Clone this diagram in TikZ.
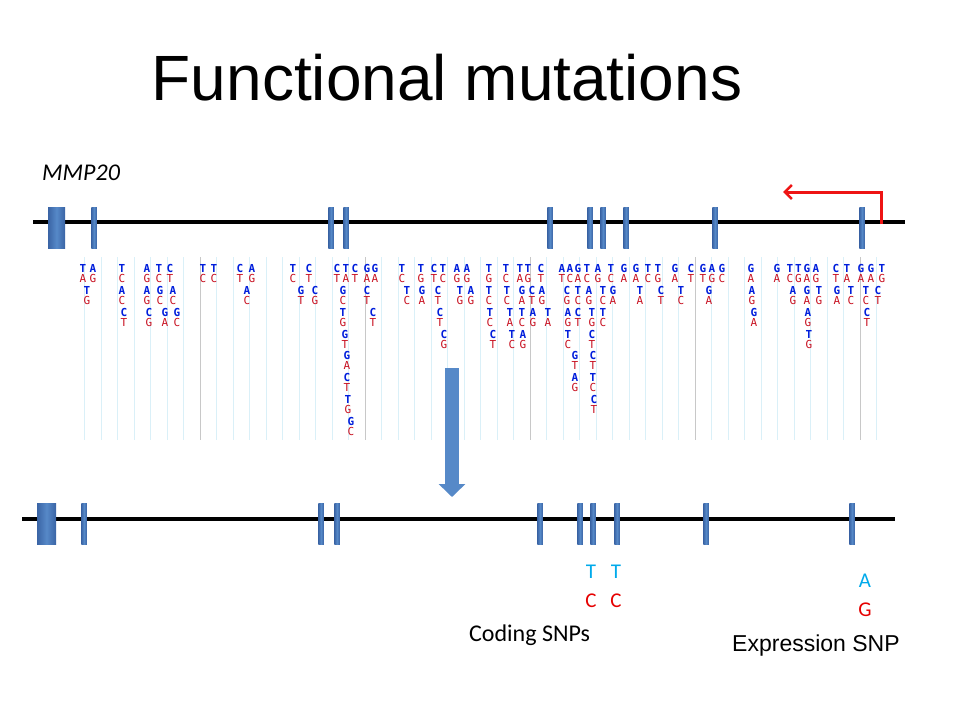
\documentclass[tikz,border=0pt]{standalone}
\usepackage{fontspec}
\setmainfont{Liberation Sans}
\newfontfamily\calibri{Carlito}
\newfontfamily\basefont{DejaVu Sans Mono}
\definecolor{exonblue}{RGB}{86, 137, 200}
\definecolor{exondark}{RGB}{58, 100, 165}
\definecolor{baseblue}{RGB}{0, 30, 220}
\definecolor{basered}{RGB}{200, 16, 32}
\definecolor{gridcyan}{RGB}{218, 240, 248}
\definecolor{gridgray}{RGB}{200, 200, 200}
\definecolor{snpcyan}{RGB}{0, 170, 235}
\definecolor{snpred}{RGB}{230, 0, 0}
\definecolor{tssred}{RGB}{238, 20, 20}
\usetikzlibrary{arrows.meta, positioning}

\begin{document}
\begin{tikzpicture}[x=1pt, y=-1pt,
  exon/.style={left color=exondark, right color=exondark, middle color=exonblue, minimum width=5.5pt, minimum height=41pt, inner sep=0pt},
  bigexon/.style={exon, minimum width=17pt},
  geneline/.style={line width=3.8pt, black},
  gridthin/.style={gridcyan, line width=0.6pt},
  gridthick/.style={gridgray, line width=0.8pt},
  topbase/.style={inner sep=0pt, text=baseblue, font=\basefont\bfseries\fontsize{11}{11}\selectfont},
  botbase/.style={inner sep=0pt, text=basered, font=\basefont\fontsize{11}{11}\selectfont},
  allele/.style={inner sep=0pt, font=\calibri\fontsize{21}{21}\selectfont},
  label/.style={inner sep=0pt, anchor=base west}
]
  \fill[white] (0,0) rectangle (960,720);
  \useasboundingbox (0,0) rectangle (960,720);

  \node[font=\fontsize{64}{64}\selectfont, anchor=base, inner sep=0pt] (title) at (447,100) {Functional mutations};
  \node[label, font=\calibri\itshape\fontsize{24}{24}\selectfont] (gene) at (42,180) {MMP20};

  % genomic line with exons
  \coordinate (top5) at (33,222);
  \coordinate (top3) at (905,222);
  \draw[geneline] (top5) -- (top3);
  \node[bigexon] (tex0) at (56.5,227.5) {};
  \foreach \x [count=\i] in {94,331,346,550,590,603,626,715,862}
    \node[exon] (tex\i) at (\x,227.5) {};

  \coordinate (tss) at (881,224);
  \coordinate (tssend) at (783,192);
  \draw[tssred, line width=3pt, -{Straight Barb[length=7pt, width=14pt, line width=2.5pt]}] (tss) |- (tssend);

  % alignment grid
  \foreach \k in {-7,...,41}
    \draw[gridthin] ({200+16.5*\k},257) -- ({200+16.5*\k},440);
  \foreach \k in {0,10,...,40}
    \draw[gridthick] ({200+16.5*\k},257) -- ({200+16.5*\k},440);

  \foreach \x/\r/\a/\b [count=\i] in {
    83/1/T/A, 93/1/A/G, 122/1/T/C, 147/1/A/G, 159/1/T/C, 170/1/C/T, 203/1/T/C, 214/1/T/C, 240/1/C/T, 252/1/A/G,
    293/1/T/C, 309/1/C/T, 337/1/C/T, 346/1/T/A, 355/1/C/T, 367/1/G/A, 375/1/G/A, 402/1/T/C, 421/1/T/G, 434/1/C/T,
    443/1/T/C, 457/1/A/G, 467/1/A/G, 489/1/T/G, 506/1/T/C, 520/1/T/A, 528/1/T/G, 541/1/C/T, 562/1/A/T, 570/1/A/C,
    578/1/G/A, 587/1/T/C, 598/1/A/G, 611/1/T/C, 624/1/G/A, 636/1/G/A, 648/1/T/C, 658/1/T/G, 675/1/G/A, 691/1/C/T,
    703/1/G/T, 712/1/A/G, 722/1/G/C, 751/1/G/A, 777/1/G/A, 790/1/T/C, 798.5/1/T/G, 807/1/G/A, 816/1/A/G, 836/1/C/T,
    847/1/T/A, 861/1/G/A, 871/1/G/A, 882/1/T/G,
    87/2/T/G, 122/2/A/C, 147/2/A/G, 160/2/G/C, 173/2/A/C, 247/2/A/C, 301/2/G/T, 315/2/C/G, 343/2/G/C, 367/2/C/T,
    407/2/T/C, 422/2/G/A, 438/2/C/T, 460/2/T/G, 471/2/A/G, 489/2/T/C, 507/2/T/C, 522/2/G/A, 532/2/C/T, 542/2/A/G,
    567/2/C/G, 578/2/T/C, 589/2/A/G, 603/2/T/C, 613/2/G/A, 640/2/T/A, 661/2/C/T, 681/2/T/C, 709/2/G/A, 752/2/A/G,
    793/2/A/G, 807/2/G/A, 819/2/T/G, 837/2/G/A, 851/2/T/C, 866/2/T/C, 878/2/C/T,
    124/3/C/T, 149/3/C/G, 165/3/G/A, 177/3/G/C, 343/3/T/G, 373/3/C/T, 440/3/C/T, 490/3/T/C, 510/3/T/A, 522/3/T/C,
    533/3/A/G, 548/3/T/A, 568/3/A/G, 578/3/C/T, 592/3/T/G, 603/3/T/C, 754/3/G/A, 808/3/A/G, 867/3/C/T,
    345/4/G/T, 444/4/C/G, 493/4/C/T, 512/4/T/C, 523/4/A/G, 568/4/T/C, 592/4/C/T, 809/4/T/G,
    347/5/G/A, 575/5/G/T, 593/5/C/T,
    347/6/C/T, 575/6/A/G, 593/6/T/C,
    348/7/T/G, 594/7/C/T,
    351/8/G/C}
  {
    \node[topbase] (ta\i) at (\x,{268.3+21.9*(\r-1)}) {\a};
    \node[botbase] (tb\i) at (\x,{278.3+21.9*(\r-1)}) {\b};
  }

  \coordinate (arrtop) at (452,368);
  \coordinate (arrtip) at (452,497);
  \draw[exonblue, line width=14pt, -{Triangle[length=13pt, width=26pt]}] (arrtop) -- (arrtip);

  % functional view
  \coordinate (bot5) at (22,519);
  \coordinate (bot3) at (895,519);
  \draw[geneline] (bot5) -- (bot3);
  \node[bigexon, minimum width=19pt] (bex0) at (46.5,524) {};
  \foreach \x [count=\i] in {84,321,337,540,580,593,617,706,852}
    \node[exon] (bex\i) at (\x,524) {};

  \node[allele, text=snpcyan] (cs1new) at (591,571.5) {T};
  \node[allele, text=snpred] (cs1old) at (591,600.5) {C};
  \node[allele, text=snpcyan] (cs2new) at (616,571.5) {T};
  \node[allele, text=snpred] (cs2old) at (616,600.5) {C};
  \node[allele, text=snpcyan] (esnew) at (865,580.5) {A};
  \node[allele, text=snpred] (esold) at (865,609.5) {G};

  \node[label, font=\calibri\fontsize{24}{24}\selectfont] (coding) at (469,641.5) {Coding SNPs};
  \node[label, font=\fontsize{23}{23}\selectfont] (expr) at (732,651) {Expression SNP};
\end{tikzpicture}
\end{document}
